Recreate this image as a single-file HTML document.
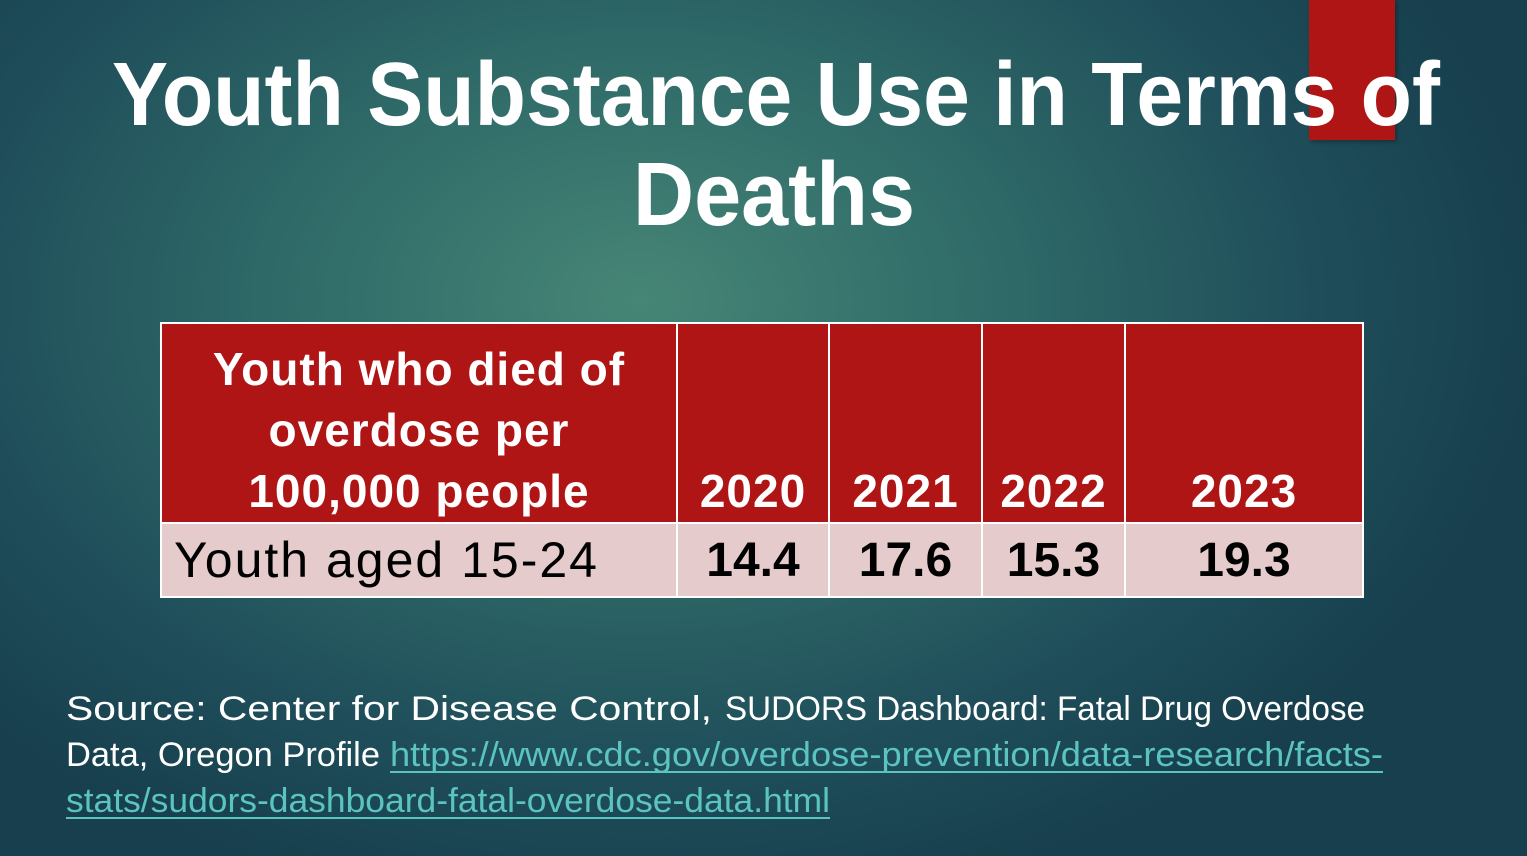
<!DOCTYPE html>
<html><head><meta charset="utf-8"><style>
html,body{margin:0;padding:0}
body{width:1527px;height:856px;overflow:hidden;position:relative;font-family:"Liberation Sans",sans-serif;
background:radial-gradient(ellipse 900px 620px at 640px 300px,#468676 0%,#2f6a68 40%,#1f4e5a 75%,#173f4d 100%);}
.red{position:absolute;left:1309px;top:0;width:86px;height:140px;background:#b01515;box-shadow:2px 2px 4px rgba(0,0,0,.3)}
svg{position:absolute;left:0;top:0}
table{position:absolute;left:160px;top:322px;border-collapse:collapse;}
td{border:2px solid #fff;padding:0;text-align:center}
.h td{background:#b01515;color:#fff;font-weight:bold;font-size:46px;height:198px;vertical-align:bottom;padding-bottom:0px;line-height:61px;letter-spacing:1px}
.b td{background:#e5cbcc;color:#000;font-weight:bold;font-size:48px;height:72px}
</style></head><body>
<div class="red"></div>
<svg width="1527" height="856" style="z-index:2">
<g fill="#fff" font-family="Liberation Sans, sans-serif" font-weight="bold" font-size="90">
<text x="112" y="125" textLength="1328" lengthAdjust="spacingAndGlyphs">Youth Substance Use in Terms of</text>
<text x="633" y="225" textLength="282" lengthAdjust="spacingAndGlyphs">Deaths</text>
</g>
<g font-family="Liberation Sans, sans-serif" font-size="34" fill="#fff">
<text x="66" y="720" textLength="646" lengthAdjust="spacingAndGlyphs">Source: Center for Disease Control,</text>
<text x="725" y="720" textLength="640" lengthAdjust="spacingAndGlyphs">SUDORS Dashboard: Fatal Drug Overdose</text>
<text x="66" y="766" textLength="314" lengthAdjust="spacingAndGlyphs">Data, Oregon Profile</text>
<g fill="#5cc4c0">
<text x="390" y="766" textLength="993" lengthAdjust="spacingAndGlyphs">https://www.cdc.gov/overdose-prevention/data-research/facts-</text>
<text x="66" y="812" textLength="764" lengthAdjust="spacingAndGlyphs">stats/sudors-dashboard-fatal-overdose-data.html</text>
</g>
<rect x="390" y="771" width="993" height="2" fill="#5cc4c0"/>
<rect x="66" y="817" width="764" height="2" fill="#5cc4c0"/>
</g>
</svg>
<table>
<tr class="h"><td style="width:514px">Youth who died of<br>overdose per<br>100,000 people</td><td style="width:150px">2020</td><td style="width:151px">2021</td><td style="width:141px">2022</td><td style="width:236px">2023</td></tr>
<tr class="b"><td style="text-align:left;padding-left:12px;font-weight:normal;font-size:50px;letter-spacing:2px">Youth aged 15-24</td><td>14.4</td><td>17.6</td><td>15.3</td><td>19.3</td></tr>
</table>
</body></html>
